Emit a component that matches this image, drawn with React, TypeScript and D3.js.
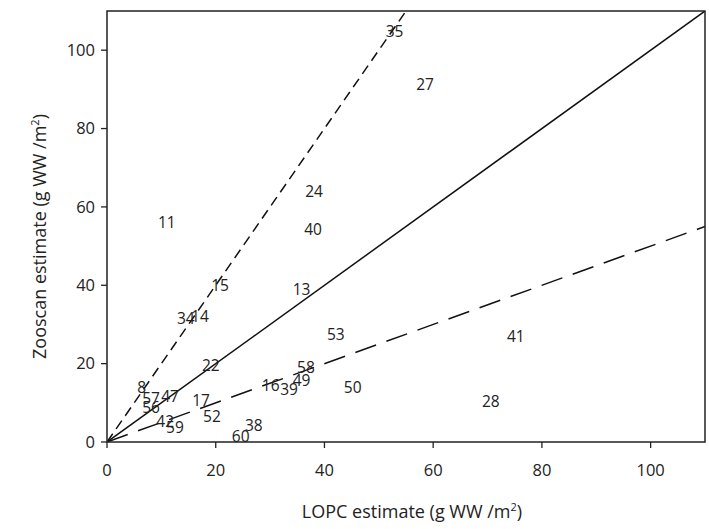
import React from "react";
import * as d3 from "d3";

const labels = ["35","27","24","40","11","15","13","34","14","53","41","22","58","8","16","49","39","50","57","47","56","17","52","28","42","59","38","60"];
const lopc =   [52.9, 58.5, 38.1, 37.9, 11.0, 20.8, 35.8, 14.5, 17.1, 42.1, 75.2, 19.1, 36.6, 6.4, 30.1, 35.8, 33.5, 45.2, 8.1, 11.6, 8.1, 17.3, 19.3, 70.6, 10.7, 12.5, 27.0, 24.6];
const zooscan = [104.8, 91.1, 63.8, 54.3, 56.1, 40.0, 38.8, 31.6, 32.1, 27.3, 26.8, 19.4, 18.9, 13.8, 14.5, 15.8, 13.5, 13.8, 11.0, 11.7, 8.7, 10.7, 6.4, 10.2, 5.1, 3.6, 4.3, 1.5];
const xTicks = [0, 20, 40, 60, 80, 100];
const yTicks = [0, 20, 40, 60, 80, 100];
const refSlopes = [1, 2, 0.5];

export default function App() {
  const W = 709, H = 529;
  const left = 107, right = 705, top = 11, bottom = 442;
  const x = d3.scaleLinear().domain([0, 110]).range([left, right]);
  const y = d3.scaleLinear().domain([0, 110]).range([bottom, top]);
  const font = "'Open Sans', 'DejaVu Sans', sans-serif";
  const line = d3.line<[number, number]>().x(d => x(d[0])).y(d => y(d[1]));
  const dashes = ["none", "10 6", "22 11"];
  return (
    <svg width={W} height={H} style={{ position: "absolute", left: 0, top: 0, background: "#fff" }}>
      <defs>
        <clipPath id="plot">
          <rect x={left} y={top} width={right - left} height={bottom - top} />
        </clipPath>
      </defs>
      <g clipPath="url(#plot)">
        {refSlopes.map((s, i) => (
          <path key={i} d={line([[0, 0], [110, 110 * s]]) || ""} fill="none" stroke="#111" strokeWidth={1.5} strokeDasharray={dashes[i]} />
        ))}
      </g>
      <rect x={left} y={top} width={right - left} height={bottom - top} fill="none" stroke="#222" strokeWidth={1.5} />
      {xTicks.map(t => (
        <g key={t}>
          <line x1={x(t)} x2={x(t)} y1={bottom} y2={bottom + 6} stroke="#222" strokeWidth={1.3} />
          <text x={x(t)} y={bottom + 34} textAnchor="middle" fontFamily={font} fontSize={16.5} fill="#222">{t}</text>
        </g>
      ))}
      {yTicks.map(t => (
        <g key={t}>
          <line x1={left - 6} x2={left} y1={y(t)} y2={y(t)} stroke="#222" strokeWidth={1.3} />
          <text x={left - 12} y={y(t)} dy="0.35em" textAnchor="end" fontFamily={font} fontSize={16.5} fill="#222">{t}</text>
        </g>
      ))}
      {labels.map((l, i) => (
        <text key={i} x={x(lopc[i])} y={y(zooscan[i])} dy="0.35em" textAnchor="middle" fontFamily={font} fontSize={15.5} fill="#222">{l}</text>
      ))}
      <text x={(left + right) / 2 + 6} y={518} textAnchor="middle" fontFamily={font} fontSize={18} fill="#222">
        LOPC estimate (g WW /m<tspan dy="-7" fontSize={11}>2</tspan><tspan dy="7">)</tspan>
      </text>
      <text transform={`translate(46, ${(top + bottom) / 2 + 10}) rotate(-90)`} textAnchor="middle" fontFamily={font} fontSize={18} fill="#222">
        Zooscan estimate (g WW /m<tspan dy="-7" fontSize={11}>2</tspan><tspan dy="7">)</tspan>
      </text>
    </svg>
  );
}
